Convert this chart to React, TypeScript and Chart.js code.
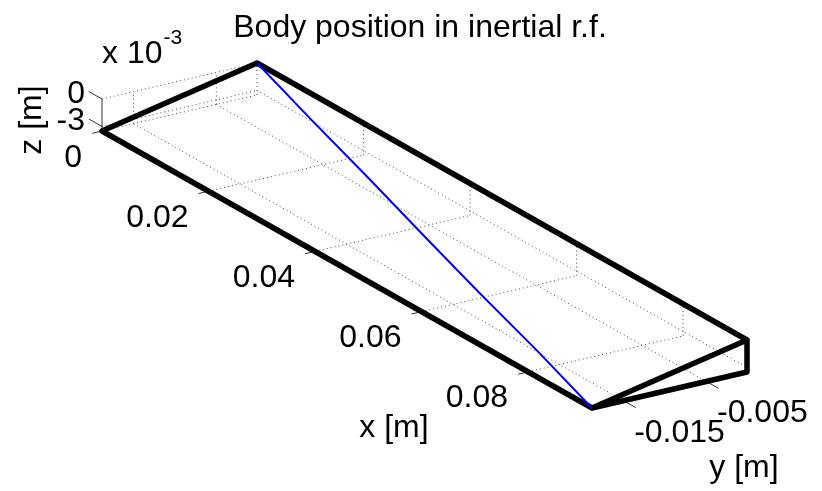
import { useEffect, useRef } from "react";
import { Chart, registerables } from "chart.js";

Chart.register(...registerables);

const W = 822;
const H = 491;

// Axis limits [m]
const xLim = [0, 0.092];
const yLim = [-0.0188, -0.0001];
const zLim = [-0.0035, 0];

// Tick values and their labels
const xTicks = [0, 0.02, 0.04, 0.06, 0.08];
const xTickLabels = ["0", "0.02", "0.04", "0.06", "0.08"];
const yTicks = [-0.015, -0.005];
const yTickLabels = ["-0.015", "-0.005"];
const zTicks = [-0.003, 0];
const zTickLabels = ["-3", "0"];

// Body trajectory in the inertial frame [m]
const trajX = [0, 0.015, 0.031, 0.046, 0.061, 0.077, 0.092];
const trajY = [-0.0001, -0.0032, -0.0064, -0.0095, -0.0126, -0.0157, -0.0188];
const trajZ = [0, -0.0006, -0.0012, -0.0018, -0.0023, -0.0029, -0.0035];

// Body outline (one closed path over its edges) [m]
const bodyX = [0.092, 0, 0, 0.092, 0.092, 0.092, 0.092];
const bodyY = [-0.0188, -0.0188, -0.0001, -0.0001, -0.0188, -0.0001, -0.0001];
const bodyZ = [-0.0035, -0.0035, 0, 0, -0.0035, -0.0035, 0];

// Orthographic view of the unit plot box onto the canvas plane
const VIEW_ORIGIN = [102, 131];
const VIEW_X = [490, 277];
const VIEW_Y = [155, -36];
const VIEW_Z = [0, -32];

type P3 = [number, number, number];
type P2 = { x: number; y: number };

const frac = (v: number, lim: number[]) => (v - lim[0]) / (lim[1] - lim[0]);

function project([x, y, z]: P3): P2 {
  const fx = frac(x, xLim);
  const fy = frac(y, yLim);
  const fz = frac(z, zLim);
  return {
    x: VIEW_ORIGIN[0] + fx * VIEW_X[0] + fy * VIEW_Y[0] + fz * VIEW_Z[0],
    y: VIEW_ORIGIN[1] + fx * VIEW_X[1] + fy * VIEW_Y[1] + fz * VIEW_Z[1],
  };
}

const GAP: P2 = { x: NaN, y: NaN };

function segments(list: P3[][]): P2[] {
  const out: P2[] = [];
  list.forEach((seg, i) => {
    if (i > 0) out.push(GAP);
    seg.forEach((p) => out.push(project(p)));
  });
  return out;
}

function polyline(xs: number[], ys: number[], zs: number[]): P2[] {
  return xs.map((x, i) => project([x, ys[i], zs[i]]));
}

const [x0, x1] = xLim;
const [y0, y1] = yLim;
const [z0, z1] = zLim;
const dx = x1 - x0;
const dy = y1 - y0;

// Dotted grid on the floor and the two back walls
function gridLines(): P2[] {
  const segs: P3[][] = [];
  xTicks.forEach((x) => {
    segs.push([[x, y0, z0], [x, y1, z0]]);
    segs.push([[x, y1, z0], [x, y1, z1]]);
  });
  yTicks.forEach((y) => {
    segs.push([[x0, y, z0], [x1, y, z0]]);
    segs.push([[x0, y, z0], [x0, y, z1]]);
  });
  zTicks.forEach((z) => {
    segs.push([[x0, y0, z], [x0, y1, z]]);
    segs.push([[x0, y1, z], [x1, y1, z]]);
  });
  return segments(segs);
}

// Axis lines and tick marks
function axisLines(): P2[] {
  const segs: P3[][] = [
    [[x0, y0, z0], [x1, y0, z0]],
    [[x1, y0, z0], [x1, y1, z0]],
    [[x0, y0, z0], [x0, y0, z1]],
  ];
  xTicks.forEach((x) => segs.push([[x, y0, z0], [x, y0 - 0.065 * dy, z0]]));
  yTicks.forEach((y) => segs.push([[x1, y, z0], [x1 + 0.025 * dx, y, z0]]));
  zTicks.forEach((z) => segs.push([[x0, y0, z], [x0 - 0.027 * dx, y0, z]]));
  return segments(segs);
}

const FONT = '"Liberation Sans", Arial, Helvetica, sans-serif';

const annotate = {
  id: "annotate",
  beforeDraw(chart: any) {
    const ctx = chart.ctx;
    ctx.save();
    ctx.fillStyle = "#ffffff";
    ctx.fillRect(0, 0, chart.width, chart.height);
    ctx.restore();
  },
  afterDatasetsDraw(chart: any) {
    const ctx: CanvasRenderingContext2D = chart.ctx;
    const sx = chart.scales.x;
    const sy = chart.scales.y;
    const at = (p: P2) => [sx.getPixelForValue(p.x), sy.getPixelForValue(p.y)];

    ctx.save();
    ctx.fillStyle = "#000000";
    ctx.font = `32px ${FONT}`;
    ctx.textBaseline = "alphabetic";

    // x tick labels
    ctx.textAlign = "right";
    xTicks.forEach((x, i) => {
      const [px, py] = at(project([x, y0, z0]));
      ctx.fillText(xTickLabels[i], px - 20, py + 35.5);
    });

    // z tick labels
    zTicks.forEach((z, i) => {
      const [px, py] = at(project([x0, y0, z]));
      ctx.fillText(zTickLabels[i], px - 17, py + 4);
    });

    // y tick labels
    ctx.textAlign = "center";
    yTicks.forEach((y, i) => {
      const [px, py] = at(project([x1, y, z0]));
      ctx.fillText(yTickLabels[i], px + 56, py + 41);
    });

    // Title
    ctx.fillText("Body position in inertial r.f.", 420, 37);

    // Axis labels
    ctx.fillText("x [m]", 394, 437);
    ctx.fillText("y [m]", 744, 477);
    ctx.save();
    ctx.translate(41, 120);
    ctx.rotate(-Math.PI / 2);
    ctx.fillText("z [m]", 0, 0);
    ctx.restore();

    // z exponent multiplier
    ctx.textAlign = "left";
    ctx.fillText("x 10", 102, 63);
    const w = ctx.measureText("x 10").width;
    ctx.font = `21px ${FONT}`;
    ctx.fillText("-3", 102 + w + 1, 44);

    ctx.restore();
  },
};

export default function App() {
  const ref = useRef<HTMLCanvasElement | null>(null);

  useEffect(() => {
    if (!ref.current) return;
    const chart = new Chart(ref.current, {
      type: "scatter",
      data: {
        datasets: [
          {
            label: "trajectory",
            data: polyline(trajX, trajY, trajZ),
            showLine: true,
            borderColor: "#0000ff",
            borderWidth: 2,
            pointRadius: 0,
            order: 0,
          },
          {
            label: "body",
            data: polyline(bodyX, bodyY, bodyZ),
            showLine: true,
            borderColor: "#000000",
            borderWidth: 5.5,
            borderJoinStyle: "round",
            borderCapStyle: "round",
            pointRadius: 0,
            order: 1,
          },
          {
            label: "axes",
            data: axisLines(),
            showLine: true,
            spanGaps: false,
            borderColor: "#333333",
            borderWidth: 1,
            pointRadius: 0,
            order: 2,
          },
          {
            label: "grid",
            data: gridLines(),
            showLine: true,
            spanGaps: false,
            borderColor: "#4a4a4a",
            borderWidth: 1,
            borderDash: [1, 3],
            pointRadius: 0,
            order: 3,
          },
        ],
      },
      options: {
        animation: false,
        responsive: false,
        layout: { padding: 0 },
        scales: {
          x: { type: "linear", min: 0, max: W, display: false },
          y: { type: "linear", min: 0, max: H, reverse: true, display: false },
        },
        plugins: {
          legend: { display: false },
          tooltip: { enabled: false },
          title: { display: false },
        },
        elements: { line: { tension: 0 } },
      },
      plugins: [annotate],
    } as any);
    return () => chart.destroy();
  }, []);

  return (
    <div style={{ position: "fixed", left: 0, top: 0, width: W, height: H, background: "#fff" }}>
      <canvas ref={ref} width={W} height={H} style={{ display: "block", width: W, height: H }} />
    </div>
  );
}
